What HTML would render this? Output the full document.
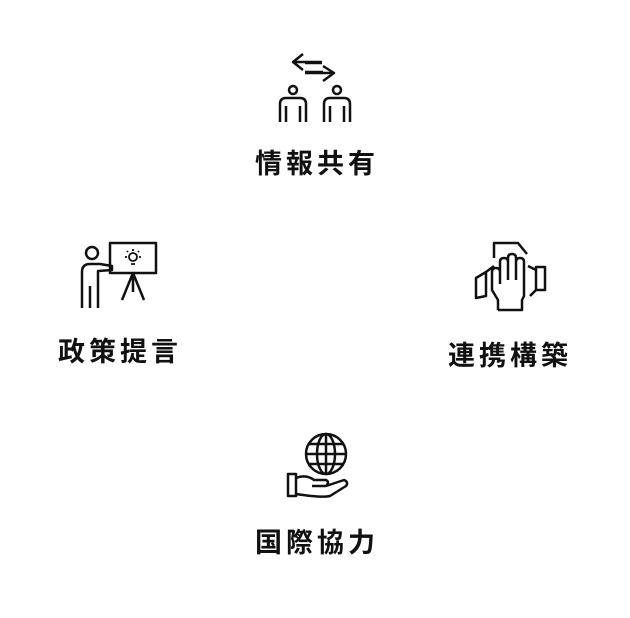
<!DOCTYPE html>
<html><head><meta charset="utf-8"><style>
html,body{margin:0;padding:0;background:#fff;width:630px;height:618px;overflow:hidden}
.l{position:absolute;font-family:"Liberation Sans","Noto Sans CJK JP",sans-serif;font-weight:700;font-size:27px;letter-spacing:4px;color:#111;line-height:30px;white-space:nowrap}
svg{position:absolute;left:0;top:0}
</style></head><body>
<svg width="630" height="618" fill="none" stroke="#111" stroke-width="2.5" stroke-linejoin="round">
<path d="M303 54 L293 62 L303 70 M293 62 H322 M323 66 L334 73 L323 81 M334 73 H305"/>
<path d="M305 63 H322 M305 72 H323"/>
<circle cx="293" cy="90" r="4"/><circle cx="337" cy="90" r="4"/>
<path d="M280 122 V104 Q280 98 286 98 H300 Q306 98 306 104 V122 M286 122 V106 M300 122 V106"/>
<path d="M324 122 V104 Q324 98 330 98 H344 Q350 98 350 104 V122 M330 122 V106 M344 122 V106"/>
<circle cx="92" cy="253" r="6"/>
<path d="M82 308 V272 Q82 264 90 264 H100 L112 266 V270 L98 271 V308 M90 308 V286"/>
<rect x="110" y="243" width="46" height="30"/>
<path d="M133 273 L122 300 M133 273 L144 300 M133 273 V292"/>
<circle cx="133" cy="257" r="4" stroke-width="1.8"/><path d="M131 264 H135 M133 249 V251 M125 257 H127 M139 257 H141 M127 251 L128 252 M139 251 L138 252" stroke-width="1.8"/>
<path d="M494 258 V243 H518 L527 254"/>
<path d="M476 278 L486 272 V296 L476 298 Z M486 272 L494 266"/>
<path d="M545 267 H536 V290 L545 290 Z M536 270 L528 266 M536 290 L530 296"/>
<path d="M498 310 V300 L492 290 V272 Q492 268 496 268 Q500 268 500 272 V284 M500 282 V262 Q500 258 504 258 Q508 258 508 262 V280 M508 278 V258 Q508 254 512 254 Q516 254 516 258 V280 M516 280 V262 Q516 258 520 258 Q524 258 524 262 V296 L522 300 V310 H498"/>
<circle cx="326" cy="454" r="20"/>
<ellipse cx="326" cy="454" rx="9" ry="20"/>
<path d="M306 454 H346 M326 434 V474 M309 444 H343 M309 464 H343"/>
<path d="M288 474 H296 V496 H288 Z M296 478 Q306 474 314 480 H326 Q330 482 326 486 H312 M326 486 L344 480 Q349 482 346 486 L330 496 Q322 498 296 494"/>
</svg>
<div class="l" style="left:255px;top:149px">情報共有</div>
<div class="l" style="left:58px;top:337px">政策提言</div>
<div class="l" style="left:448px;top:341px">連携構築</div>
<div class="l" style="left:255px;top:528px">国際協力</div>
</body></html>
